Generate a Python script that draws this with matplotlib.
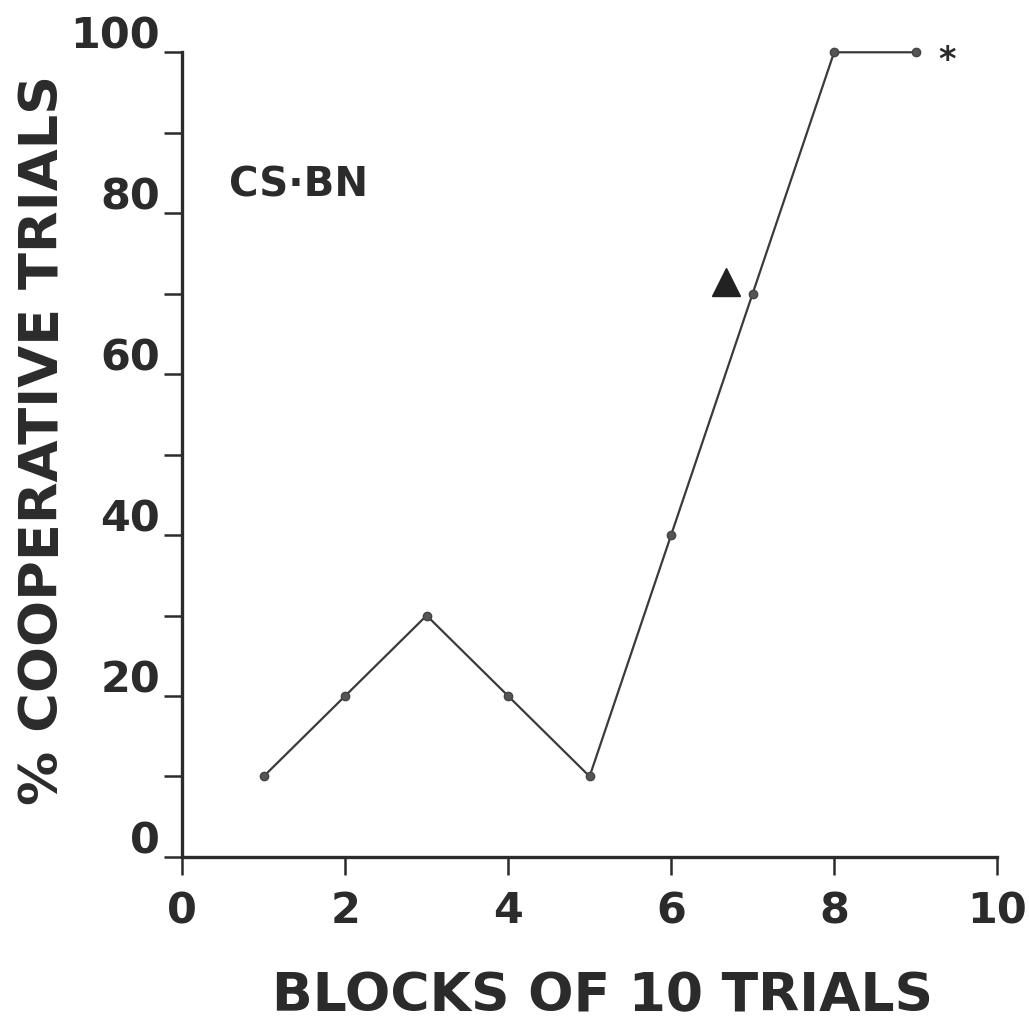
import matplotlib.pyplot as plt
import matplotlib.transforms as mtransforms

# Daten
blocks = [1, 2, 3, 4, 5, 6, 7, 8, 9]
coop_pct = [10, 20, 30, 20, 10, 40, 70, 100, 100]
x_ticks = [0, 2, 4, 6, 8, 10]
y_ticks = [0, 20, 40, 60, 80, 100]
y_minor = [10, 30, 50, 70, 90]

INK = "#2b2b2b"
plt.rcParams["font.family"] = "DejaVu Sans"

fig = plt.figure(figsize=(10.29, 10.25), dpi=100)
ax = fig.add_axes([0.177, 0.164, 0.792, 0.785])

ax.plot(blocks, coop_pct, color="#3a3a3a", linewidth=1.6,
        marker="o", markersize=6, markerfacecolor="#555555",
        markeredgecolor="#444444", clip_on=False, zorder=3)

# Dreieck und Stern
ax.plot([6.67], [71.4], marker="^", markersize=20, color="#222222",
        linestyle="none", clip_on=False)
ax.text(9.28, 99.0, "*", fontsize=24, fontweight="bold", color=INK,
        ha="left", va="center")

ax.text(0.58, 83.5, "CS·BN", fontsize=29, fontweight="bold", color=INK,
        ha="left", va="center")

ax.set_xlim(0, 10)
ax.set_ylim(0, 100)

for side in ["top", "right"]:
    ax.spines[side].set_visible(False)
for side in ["left", "bottom"]:
    ax.spines[side].set_linewidth(2.4)
    ax.spines[side].set_color(INK)

ax.set_xticks(x_ticks)
ax.set_yticks(y_ticks)
ax.set_yticks(y_minor, minor=True)
ax.tick_params(axis="both", which="both", direction="out", length=13,
               width=1.8, color=INK, labelcolor=INK, labelsize=31)
ax.tick_params(axis="x", pad=11)
ax.tick_params(axis="y", pad=3)

for lab in ax.get_xticklabels() + ax.get_yticklabels():
    lab.set_fontweight("bold")

# y-Beschriftungen etwas nach oben versetzt
offset = mtransforms.ScaledTranslation(0, 2.5 / 72, fig.dpi_scale_trans)
for lab in ax.get_yticklabels():
    lab.set_verticalalignment("baseline")
    lab.set_transform(lab.get_transform() + offset)

fig.text(43 / 1029, 1 - 440 / 1025, "% COOPERATIVE TRIALS", rotation=90,
         fontsize=39, fontweight="bold", color=INK, ha="center", va="center")
fig.text(602 / 1029, 1 - 996 / 1025, "BLOCKS OF 10 TRIALS",
         fontsize=38.5, fontweight="bold", color=INK, ha="center", va="center")

fig.savefig("out.png", dpi=100, facecolor="white")
